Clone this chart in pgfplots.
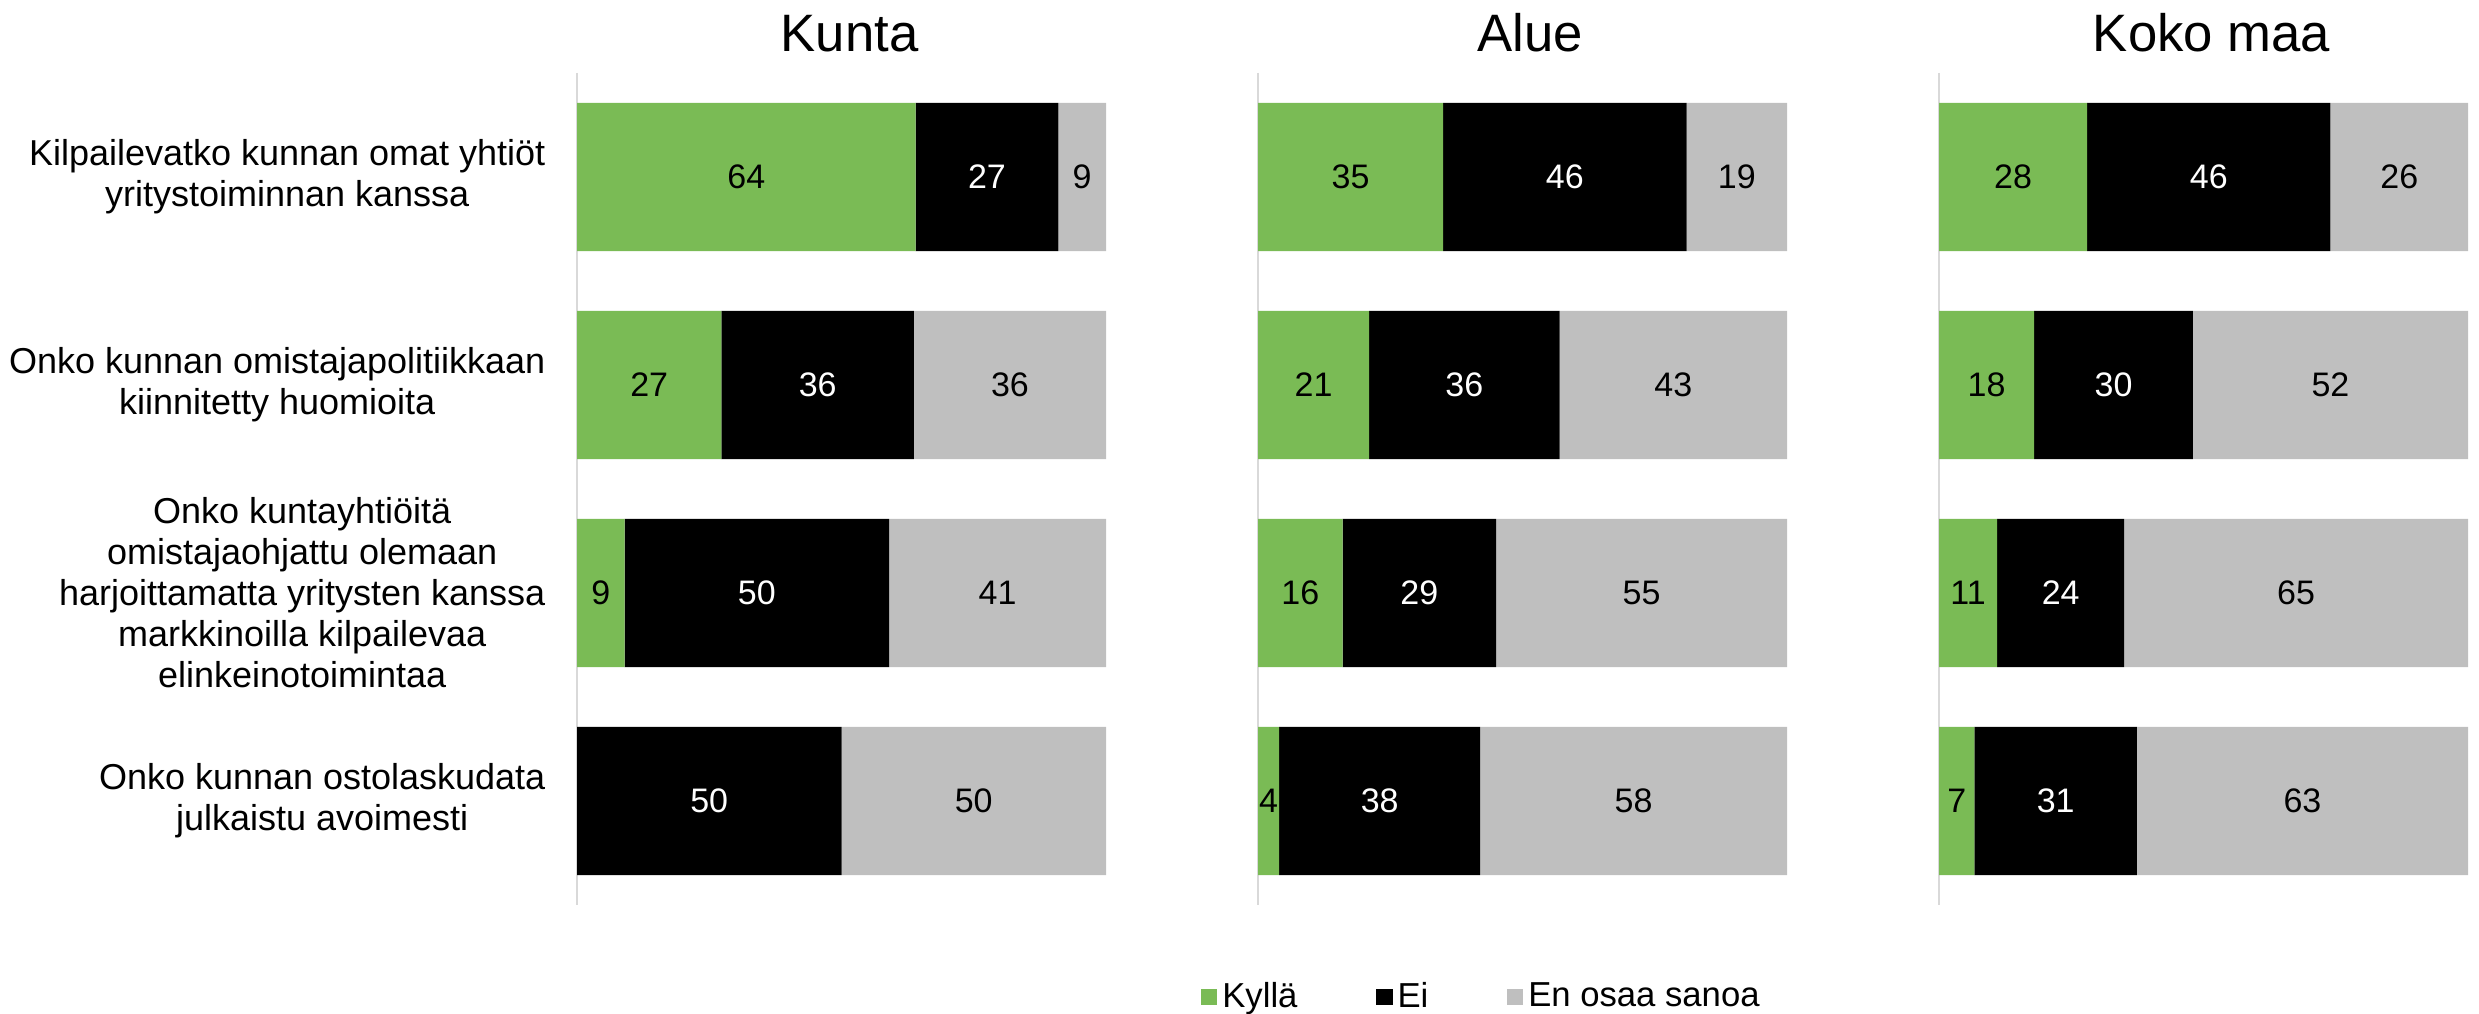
\documentclass[border=0pt]{standalone}
\usepackage{pgfplots}
\pgfplotsset{compat=1.18}
\usepackage{fontspec}
\setmainfont{Liberation Sans}

\definecolor{kylla}{RGB}{122,187,85}
\definecolor{eos}{RGB}{191,191,191}
\definecolor{axgray}{RGB}{217,217,217}

% stacked bars already put nodes near coords in the middle of each segment
\pgfplotsset{
  panel/.style={
    scale only axis, width=158.7pt, height=249.6pt,
    xbar stacked, bar width=0.712,
    xmin=0, xmax=100, ymin=0.5, ymax=4.5, y dir=reverse,
    axis x line=none, axis y line*=left,
    y axis line style={draw=axgray, line width=0.6pt},
    ytick={1,2,3,4}, major tick length=0pt,
    yticklabels={},
    yticklabel style={font=\fontsize{10.8}{12.3}\selectfont, align=center, inner sep=0pt, xshift=-9.3pt},
    title style={font=\fontsize{15.8}{19}\selectfont, at={(0.5,1)}, anchor=base, yshift=0.3pt, xshift=2.4pt},
    /pgf/number format/assume math mode=true,
    nodes near coords={\pgfmathfloatifflags{\pgfplotspointmeta}{0}{}{\pgfmathprintnumber[fixed,precision=0]{\pgfplotspointmeta}}},
    every node near coord/.append style={font=\fontsize{10.2}{12}\selectfont, anchor=center},
  },
}

\begin{document}
\begin{tikzpicture}
\useasboundingbox (0,0) rectangle (743.7pt,-304.2pt);

% Kunta
\begin{axis}[panel, at={(173.1pt,-21.9pt)}, anchor=north west, title={Kunta},
  yticklabels={
    {Kilpailevatko kunnan omat yhtiöt\\yritystoiminnan kanssa},
    {Onko kunnan omistajapolitiikkaan\\kiinnitetty huomioita},
    {Onko kuntayhtiöitä\\omistajaohjattu olemaan\\harjoittamatta yritysten kanssa\\markkinoilla kilpailevaa\\elinkeinotoimintaa},
    {Onko kunnan ostolaskudata\\julkaistu avoimesti}}]
\addplot[fill=kylla, draw=none] coordinates {(64,1) (27.3,2) (9,3) (0,4)};
\addplot[fill=black, draw=none, every node near coord/.append style={white}] coordinates {(27,1) (36.4,2) (50,3) (50,4)};
\addplot[fill=eos, draw=none] coordinates {(9,1) (36.3,2) (41,3) (50,4)};
\end{axis}

% Alue
\begin{axis}[panel, at={(377.4pt,-21.9pt)}, anchor=north west, title={Alue},
  legend style={at={(axis description cs:-0.1096,-0.1106)}, anchor=west, draw=none, fill=none,
    inner sep=0pt, legend columns=-1, font=\fontsize{10.4}{12}\selectfont,
    nodes={inner sep=1.5pt},
    /tikz/every even column/.append style={column sep=22pt}},
  legend image code/.code={\path[#1,draw=none] (0pt,-2.5pt) rectangle (5pt,2.5pt);}]
\addplot[fill=kylla, draw=none] coordinates {(35,1) (21,2) (16,3) (4,4)};
\addplot[fill=black, draw=none, every node near coord/.append style={white}] coordinates {(46,1) (36,2) (29,3) (38,4)};
\addplot[fill=eos, draw=none] coordinates {(19,1) (43,2) (55,3) (58,4)};
\legend{Kyllä, Ei, En osaa sanoa}
\end{axis}

% Koko maa
\begin{axis}[panel, at={(581.7pt,-21.9pt)}, anchor=north west, title={Koko maa}]
\addplot[fill=kylla, draw=none] coordinates {(28,1) (18,2) (11,3) (6.7,4)};
\addplot[fill=black, draw=none, every node near coord/.append style={white}] coordinates {(46,1) (30,2) (24,3) (30.7,4)};
\addplot[fill=eos, draw=none] coordinates {(26,1) (52,2) (65,3) (62.6,4)};
\end{axis}
\end{tikzpicture}
\end{document}
